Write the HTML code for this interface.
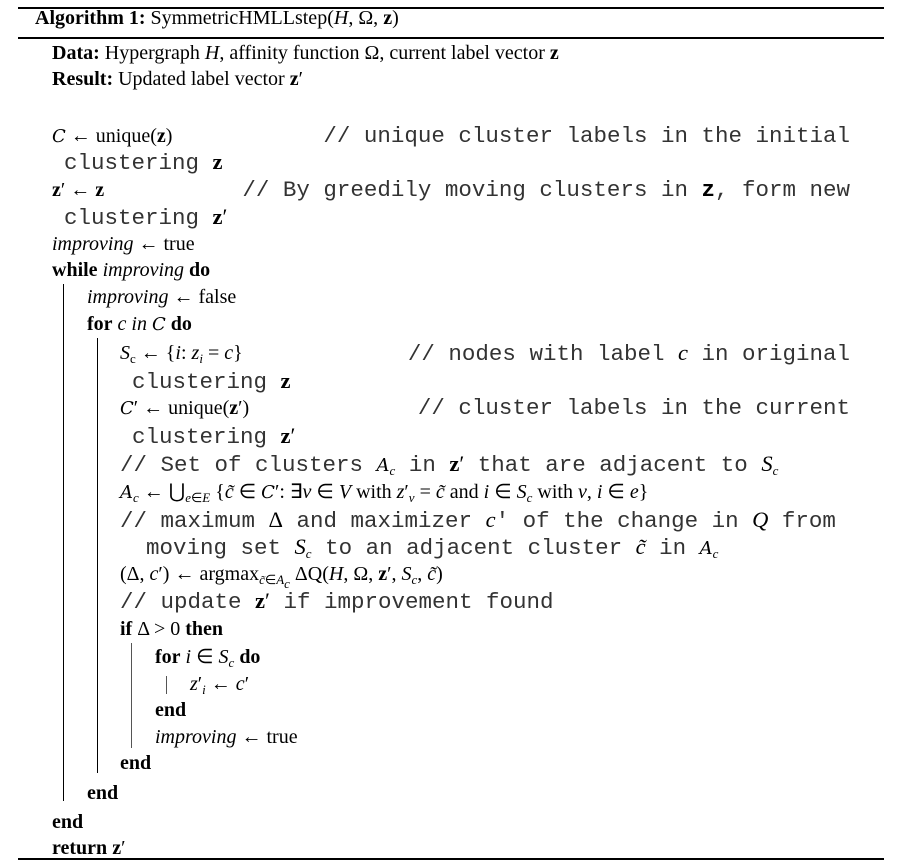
<!DOCTYPE html>
<html><head><meta charset="utf-8"><style>
body{margin:0;background:#fff;}
#c{position:relative;width:902px;height:868px;overflow:hidden;font-family:"Liberation Serif",serif;font-size:20px;color:#000;}
.l{position:absolute;white-space:nowrap;line-height:26px;height:26px;}
.r{position:absolute;white-space:nowrap;line-height:26px;right:52px;}
.m{font-family:"Liberation Mono",monospace;font-size:22.5px;letter-spacing:0;color:#333;}
.m b,.m i,.m span,.m sub{color:#000}
.rule{position:absolute;left:18px;width:866px;background:#000;}
.v{position:absolute;width:1px;background:#000;}
b{font-weight:bold}
i{font-style:italic}
sub{font-size:13px;vertical-align:-4px;line-height:0}
.cal{font-family:"DejaVu Serif",serif;font-style:italic;font-size:18px}
</style></head><body><div id="c">
<div class="rule" style="top:7px;height:2px"></div>
<div class="rule" style="top:37px;height:1.5px"></div>
<div class="rule" style="top:858px;height:2px"></div>

<div class="l" style="left:35px;top:5px"><b>Algorithm 1:</b> SymmetricHMLLstep(<i>H</i>, Ω, <b>z</b>)</div>
<div class="l" style="left:52px;top:40px"><b>Data:</b> Hypergraph <i>H</i>, affinity function Ω, current label vector <b>z</b></div>
<div class="l" style="left:52px;top:66px"><b>Result:</b> Updated label vector <b>z</b>′</div>

<div class="l" style="left:52px;top:123px"><span class="cal">C</span> ← unique(<b>z</b>)</div>
<div class="r m" style="top:123px">// unique cluster labels in the initial</div>
<div class="l m" style="left:64px;top:149px">clustering <b style="font-family:'Liberation Serif'">z</b></div>
<div class="l" style="left:52px;top:177px"><b>z</b>′ ← <b>z</b></div>
<div class="r m" style="top:177px">// By greedily moving clusters in <b>z</b>, form new</div>
<div class="l m" style="left:64px;top:204px">clustering <b style="font-family:'Liberation Serif'">z</b><span style="font-family:'Liberation Serif'">′</span></div>
<div class="l" style="left:52px;top:231px"><i>improving</i> ← true</div>
<div class="l" style="left:52px;top:257px"><b>while</b> <i>improving</i> <b>do</b></div>
<div class="v" style="left:63px;top:284px;height:517px"></div>
<div class="l" style="left:87px;top:284px"><i>improving</i> ← false</div>
<div class="l" style="left:87px;top:311px"><b>for</b> <i>c in</i> <span class="cal">C</span> <b>do</b></div>
<div class="v" style="left:97px;top:338px;height:435px"></div>
<div class="l" style="left:120px;top:340px"><i>S</i><sub>c</sub> ← {<i>i</i>: <i>z<sub>i</sub></i> = <i>c</i>}</div>
<div class="r m" style="top:340px">// nodes with label <i style="font-family:'Liberation Serif'">c</i> in original</div>
<div class="l m" style="left:132px;top:368px">clustering <b style="font-family:'Liberation Serif'">z</b></div>
<div class="l" style="left:120px;top:395px"><span class="cal">C</span>′ ← unique(<b>z</b>′)</div>
<div class="r m" style="top:395px">// cluster labels in the current</div>
<div class="l m" style="left:132px;top:423px">clustering <b style="font-family:'Liberation Serif'">z</b><span style="font-family:'Liberation Serif'">′</span></div>
<div class="l m" style="left:120px;top:451px">// Set of clusters <span class="cal">A</span><sub style="font-family:'Liberation Serif'"><i>c</i></sub> in <b style="font-family:'Liberation Serif'">z</b><span style="font-family:'Liberation Serif'">′</span> that are adjacent to <i style="font-family:'Liberation Serif'">S<sub>c</sub></i></div>
<div class="l" style="left:120px;top:479px"><span class="cal">A</span><sub><i>c</i></sub> ← ⋃<sub><i>e</i>∈<i>E</i></sub> {<i>c̃</i> ∈ <span class="cal">C</span>′: ∃<i>v</i> ∈ <i>V</i> with <i>z</i>′<sub><i>v</i></sub> = <i>c̃</i> and <i>i</i> ∈ <i>S<sub>c</sub></i> with <i>v</i>, <i>i</i> ∈ <i>e</i>}</div>
<div class="l m" style="left:120px;top:507px">// maximum <span style="font-family:'Liberation Serif'">Δ</span> and maximizer <i style="font-family:'Liberation Serif'">c</i>′ of the change in <i style="font-family:'Liberation Serif'">Q</i> from</div>
<div class="l m" style="left:146px;top:534px">moving set <i style="font-family:'Liberation Serif'">S<sub>c</sub></i> to an adjacent cluster <i style="font-family:'Liberation Serif'">c̃</i> in <span class="cal">A</span><sub style="font-family:'Liberation Serif'"><i>c</i></sub></div>
<div class="l" style="left:120px;top:561px">(Δ, <i>c</i>′) ← argmax<sub><i>c̃</i>∈<i>A<sub>c</sub></i></sub> ΔQ(<i>H</i>, Ω, <b>z</b>′, <i>S<sub>c</sub></i>, <i>c̃</i>)</div>
<div class="l m" style="left:120px;top:588px">// update <b style="font-family:'Liberation Serif'">z</b><span style="font-family:'Liberation Serif'">′</span> if improvement found</div>
<div class="l" style="left:120px;top:616px"><b>if</b> Δ &gt; 0 <b>then</b></div>
<div class="v" style="left:131px;top:643px;height:105px;background:#555"></div>
<div class="l" style="left:155px;top:644px"><b>for</b> <i>i</i> ∈ <i>S<sub>c</sub></i> <b>do</b></div>
<div class="v" style="left:166px;top:676px;height:18px;background:#555"></div>
<div class="l" style="left:190px;top:671px"><i>z</i>′<sub><i>i</i></sub> ← <i>c</i>′</div>
<div class="l" style="left:155px;top:697px"><b>end</b></div>
<div class="l" style="left:155px;top:724px"><i>improving</i> ← true</div>
<div class="l" style="left:120px;top:750px"><b>end</b></div>
<div class="l" style="left:87px;top:780px"><b>end</b></div>
<div class="l" style="left:52px;top:809px"><b>end</b></div>
<div class="l" style="left:52px;top:835px"><b>return</b> <b>z</b>′</div>
</div></body></html>
